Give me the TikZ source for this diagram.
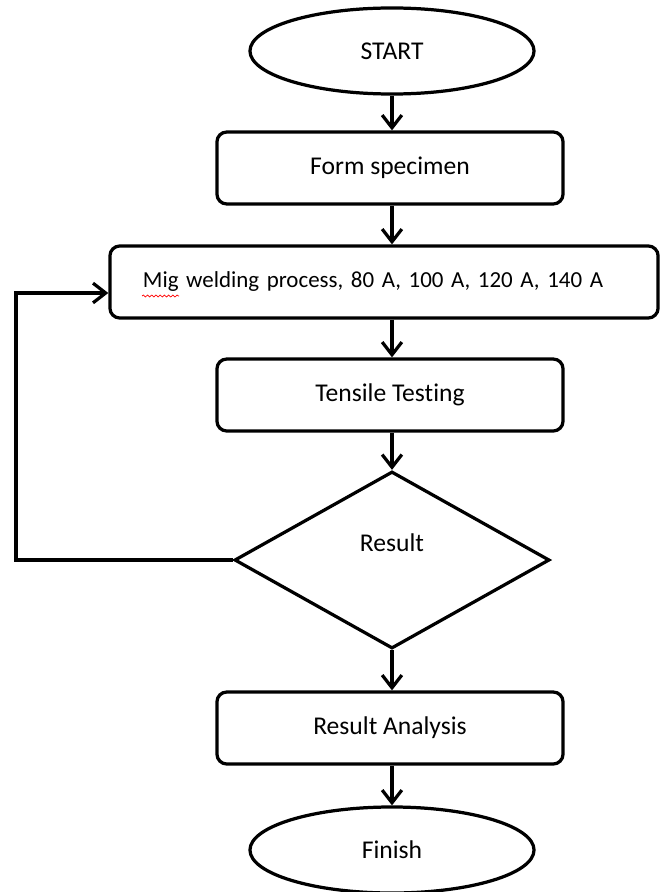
\documentclass[tikz,border=0pt]{standalone}
\usepackage{fontspec}
\setmainfont{Carlito}[RawFeature=-liga]
\usetikzlibrary{shapes.geometric,arrows.meta,calc,decorations.pathmorphing}
\begin{document}
\begin{tikzpicture}[x=0.025cm,y=-0.025cm,
    line width=2.3pt,
    every node/.style={font=\fontsize{18.2}{21}\selectfont},
    term/.style={draw,ellipse,minimum width=7.1cm,minimum height=2.15cm,inner sep=0pt},
    stepbox/.style={draw,rounded corners=7pt,minimum width=8.65cm,minimum height=1.8cm,inner sep=0pt},
    decide/.style={draw,diamond,minimum width=7.875cm,minimum height=4.425cm,inner sep=0pt,text depth=0.85cm},
    arr/.style={-{Straight Barb[length=9pt,width=14pt,line width=2.3pt]}}]
    \path[use as bounding box](0,0)rectangle(660,892);
    \node[term](start)at(392,51){START};
    \node[stepbox](form)at(390,168){Form specimen};
    \node[stepbox,minimum width=13.7cm,inner xsep=0.825cm,text width=12.05cm,align=left,
        font=\fontsize{16.3}{20}\selectfont](mig)at(384,282){Mig welding process, 80 A, 100 A, 120 A, 140 A};
    \node[stepbox](tens)at(390,395){Tensile Testing};
    \node[decide](res)at(392,560){Result};
    \node[stepbox](anal)at(390,728){Result Analysis};
    \node[term](fin)at(392,850){Finish};
    % spell-check mark under Mig
    \draw[red,line width=0.5pt,decorate,decoration={snake,amplitude=0.7pt,segment length=3pt}](142,296)--(179,296);
    \coordinate(col)at(392,0);
    \foreach \a/\b in {start/form,form/mig,mig/tens,tens/res,res/anal,anal/fin}{
        \draw[arr](\a.south -| col)--(\b.north -| col);
    }
    \coordinate(loopTop)at(16,293);
    \draw[arr](res.west)-|(loopTop)--(loopTop -| mig.west);
\end{tikzpicture}
\end{document}
